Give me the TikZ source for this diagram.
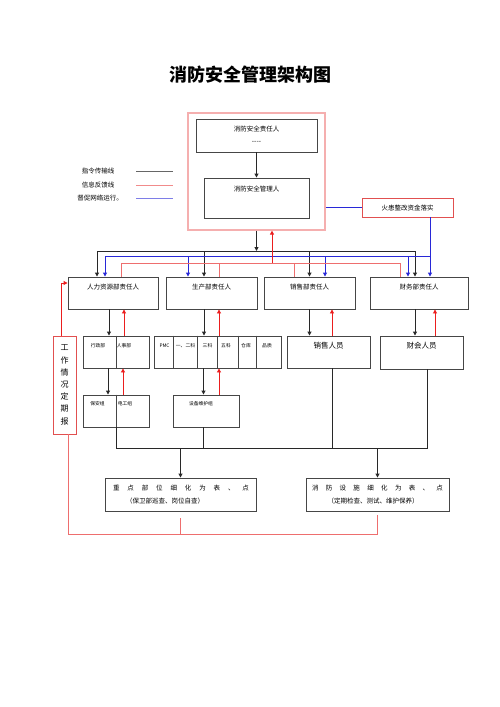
\documentclass[tikz,border=0pt]{standalone}
\usepackage{fontspec}
\setmainfont{Noto Sans CJK SC}
\usetikzlibrary{arrows.meta}
\definecolor{lnk}{RGB}{40,40,40}
\definecolor{fbr}{RGB}{235,30,30}
\definecolor{pnk}{RGB}{238,110,110}
\definecolor{lpnk}{RGB}{245,175,175}
\definecolor{blu}{RGB}{40,40,215}
\definecolor{bx}{RGB}{70,70,70}
\definecolor{redbox}{RGB}{225,80,80}
\begin{document}
\begin{tikzpicture}[x=1pt,y=-1pt,
 box/.style={draw=bx,line width=0.9pt,inner sep=0pt},
 lbl/.style={inner sep=0pt,font=\fontsize{6.5}{8}\selectfont},
 mid/.style={inner sep=0pt,font=\fontsize{7.5}{9}\selectfont},
 tiny/.style={inner sep=0pt,font=\fontsize{4.8}{6}\selectfont},
 cmd/.style={draw=lnk,line width=0.9pt},
 fb/.style={draw=fbr,line width=0.9pt},
 fbl/.style={draw=pnk,line width=0.9pt},
 bl/.style={draw=blu,line width=0.9pt},
 tip/.style={-{Triangle[length=4pt,width=4pt]}}]
\useasboundingbox (0,0) rectangle (500,707);

% title
\node[inner sep=0pt,font=\fontsize{18}{20}\selectfont\bfseries] (title) at (250,75) {消防安全管理架构图};

% legend
\node[lbl] (lg1) at (98,171) {指令传输线};
\node[lbl] (lg2) at (98,185) {信息反馈线};
\node[lbl] (lg3) at (100,198) {督促网络运行。};
\coordinate (lg1a) at (136,171); \coordinate (lg1b) at (173,171);
\coordinate (lg2a) at (136,185); \coordinate (lg2b) at (173,185);
\coordinate (lg3a) at (136,198); \coordinate (lg3b) at (173,198);
\draw[cmd,draw=gray!80!black] (lg1a) -- (lg1b);
\draw[fbl,draw=pnk!80] (lg2a) -- (lg2b);
\draw[bl,draw=blu!60] (lg3a) -- (lg3b);

% top
\node[draw=lpnk,line width=1.2pt,minimum width=137pt,minimum height=117pt,inner sep=0pt] (outer) at (256.5,171.5) {};
\node[box,minimum width=121pt,minimum height=33pt] (resp) at (256.5,135.5) {};
\node[lbl] (respT) at (256.5,129) {消防安全责任人};
\node[lbl] (respD) at (256.5,142) {{-}{-}{-}{-}};
\node[box,minimum width=105pt,minimum height=40pt] (mgr) at (256.5,198) {};
\node[lbl] (mgrT) at (256.5,189) {消防安全管理人};
\draw[cmd,tip] (resp.south) -- (mgr.north);

\node[draw=redbox,line width=0.9pt,minimum width=91pt,minimum height=19pt,inner sep=0pt] (fire) at (407.5,207.5) {};
\node[lbl] (fireT) at (407.5,208) {火患整改资金落实};

% row 1
\node[box,minimum width=90pt,minimum height=32pt] (hr) at (113,293) {};
\node[box,minimum width=91pt,minimum height=32pt] (sc) at (211.5,293) {};
\node[box,minimum width=91pt,minimum height=32pt] (xs) at (309.5,293) {};
\node[box,minimum width=98pt,minimum height=32pt] (cw) at (419,293) {};
\node[lbl] (hrT) at (113,287) {人力资源部责任人};
\node[lbl] (scT) at (211.5,287) {生产部责任人};
\node[lbl] (xsT) at (309.5,287) {销售部责任人};
\node[lbl] (cwT) at (419,287) {财务部责任人};

% row 2
\node[box,minimum width=66pt,minimum height=32pt] (xz) at (116,352) {};
\draw[box] (xz.north) -- (xz.south);
\node[tiny] (xzA) at (98,346) {行政部};
\node[tiny] (xzB) at (124,346) {人事部};
\node[box,minimum width=127pt,minimum height=32pt] (sc2) at (217.5,352) {};
\foreach \d in {20,44,64,85,103}{\draw[box] ([xshift=\d pt]sc2.north west) -- ([xshift=\d pt]sc2.south west);}
\node[tiny] (p1) at (164.5,346) {PMC};
\node[tiny] (p2) at (185.5,346) {一、二科};
\node[tiny] (p3) at (207.5,346) {三科};
\node[tiny] (p4) at (226,346) {五科};
\node[tiny] (p5) at (246,346) {仓库};
\node[tiny] (p6) at (267,346) {品质};
\node[box,minimum width=83pt,minimum height=32pt] (xsry) at (328.5,352) {};
\node[mid] (xsryT) at (328.5,346) {销售人员};
\node[box,minimum width=83pt,minimum height=33pt] (chry) at (421.5,352.5) {};
\node[mid] (chryT) at (421.5,346) {财会人员};

% report
\node[draw=redbox,line width=0.9pt,minimum width=23pt,minimum height=98pt,inner sep=0pt,align=center,font=\fontsize{8}{12.2}\selectfont] (report) at (64.5,385) {工\\作\\情\\况\\定\\期\\报};

% row 3
\node[box,minimum width=66pt,minimum height=32pt] (baz) at (116,411) {};
\draw[box] (baz.north) -- (baz.south);
\node[tiny] (bazA) at (97.5,404) {保安组};
\node[tiny] (bazB) at (125,404) {电工组};
\node[box,minimum width=66pt,minimum height=32pt] (sbwh) at (206,411) {};
\node[tiny] (sbwhT) at (201,404) {设备维护组};

% bottom
\node[box,minimum width=151pt,minimum height=33pt] (bt1) at (180.5,494.5) {};
\node[lbl] (bt1a) at (181,488) {\makebox[136pt][s]{重\hfill 点\hfill 部\hfill 位\hfill 细\hfill 化\hfill 为\hfill 表\hfill 、\hfill 点}};
\node[lbl] (bt1b) at (165,501) {（保卫部巡查、岗位自查）};
\node[box,minimum width=143pt,minimum height=33pt] (bt2) at (377.5,494.5) {};
\node[lbl] (bt2a) at (377.5,488) {\makebox[131pt][s]{消\hfill 防\hfill 设\hfill 施\hfill 细\hfill 化\hfill 为\hfill 表\hfill 、\hfill 点}};
\node[lbl] (bt2b) at (373,501) {（定期检查、测试、维护保养）};

% bus coordinates
\coordinate (kbus) at (0,251);
\coordinate (bbus) at (0,256);
\coordinate (rbus) at (0,263);
\coordinate (kbus2) at (0,448);
\coordinate (lbus) at (0,534);

% black command lines
\draw[cmd,tip] (outer.south) -- (outer.south |- kbus);
\draw[cmd] ([xshift=-16pt]hr.north |- kbus) -- ([xshift=-4pt]cw.north |- kbus);
\draw[cmd,tip] ([xshift=-16pt]hr.north |- kbus) -- ([xshift=-16pt]hr.north);
\draw[cmd,tip] ([xshift=-7.5pt]sc.north |- kbus) -- ([xshift=-7.5pt]sc.north);
\draw[cmd,tip] (xs.north |- kbus) -- (xs.north);
\draw[cmd,tip] ([xshift=-4pt]cw.north |- kbus) -- ([xshift=-4pt]cw.north);

% blue lines
\draw[bl] (outer.east |- fire.west) -- (fire.west);
\draw[bl,tip] ([xshift=22.5pt]fire.south) -- ([xshift=11pt]cw.north);
\draw[bl] ([xshift=22.5pt]fire.south |- bbus) -- ([xshift=-8pt]hr.north |- bbus);
\draw[bl,tip] ([xshift=-8pt]hr.north |- bbus) -- ([xshift=-8pt]hr.north);
\draw[bl,tip] ([xshift=-23.5pt]sc.north |- bbus) -- ([xshift=-23.5pt]sc.north);
\draw[bl,tip] ([xshift=15.5pt]xs.north |- bbus) -- ([xshift=15.5pt]xs.north);
\draw[bl,tip] ([xshift=-11pt]cw.north |- bbus) -- ([xshift=-11pt]cw.north);

% red feedback lines (top)
\draw[fb,tip] ([xshift=15.5pt]outer.south |- rbus) -- ([xshift=15.5pt]outer.south);
\draw[fbl] ([xshift=8pt]hr.north |- rbus) -- ([xshift=-19pt]cw.north |- rbus);
\draw[fbl] ([xshift=8pt]hr.north) -- ([xshift=8pt]hr.north |- rbus);
\draw[fbl] ([xshift=7.5pt]sc.north) -- ([xshift=7.5pt]sc.north |- rbus);
\draw[fbl] ([xshift=-15.5pt]xs.north) -- ([xshift=-15.5pt]xs.north |- rbus);
\draw[fbl] ([xshift=-19pt]cw.north) -- ([xshift=-19pt]cw.north |- rbus);

% row1 -> row2
\draw[cmd,tip] ([xshift=-4pt]hr.south) -- ([xshift=-4pt]hr.south |- xz.north);
\draw[fb,tip] ([xshift=11pt]hr.south |- xz.north) -- ([xshift=11pt]hr.south);
\draw[cmd,tip] ([xshift=-7.5pt]sc.south) -- ([xshift=-7.5pt]sc.south |- sc2.north);
\draw[fb,tip] ([xshift=7.5pt]sc.south |- sc2.north) -- ([xshift=7.5pt]sc.south);
\draw[cmd,tip] (xs.south) -- (xs.south |- xsry.north);
\draw[fb,tip] ([xshift=22.5pt]xs.south |- xsry.north) -- ([xshift=22.5pt]xs.south);
\draw[cmd,tip] ([xshift=-4pt]cw.south) -- ([xshift=-4pt]cw.south |- chry.north);
\draw[fb,tip] ([xshift=16pt]cw.south |- chry.north) -- ([xshift=16pt]cw.south);

% row2 -> row3
\draw[cmd,tip] ([xshift=-8pt]xz.south) -- ([xshift=-8pt]xz.south |- baz.north);
\draw[fb,tip] ([xshift=7pt]xz.south |- baz.north) -- ([xshift=7pt]xz.south);
\draw[cmd,tip] ([xshift=-14pt]sc2.south) -- ([xshift=-14pt]sc2.south |- sbwh.north);
\draw[fb,tip] ([xshift=1.5pt]sc2.south |- sbwh.north) -- ([xshift=1.5pt]sc2.south);

% lower bus
\draw[cmd] (baz.south) -- (baz.south |- kbus2) -- ([xshift=5.5pt]chry.south |- kbus2) -- ([xshift=5.5pt]chry.south);
\draw[cmd] ([xshift=-3pt]sbwh.south) -- ([xshift=-3pt]sbwh.south |- kbus2);
\draw[cmd] ([xshift=3.5pt]xsry.south) -- ([xshift=3.5pt]xsry.south |- kbus2);
\draw[cmd,tip] (bt1.north |- kbus2) -- (bt1.north);
\draw[cmd,tip] (bt2.north |- kbus2) -- (bt2.north);

% report loop
\draw[fbl] ([yshift=-7pt]bt1.south) -- (bt1.south |- lbus);
\draw[fbl] ([yshift=-4pt]bt2.south) -- (bt2.south |- lbus) -- ([xshift=3.5pt]report.south |- lbus) -- ([xshift=3.5pt]report.south);
\draw[fb,tip] ([xshift=-3.5pt]report.north) |- ([yshift=10pt]hr.west);
\end{tikzpicture}
\end{document}
